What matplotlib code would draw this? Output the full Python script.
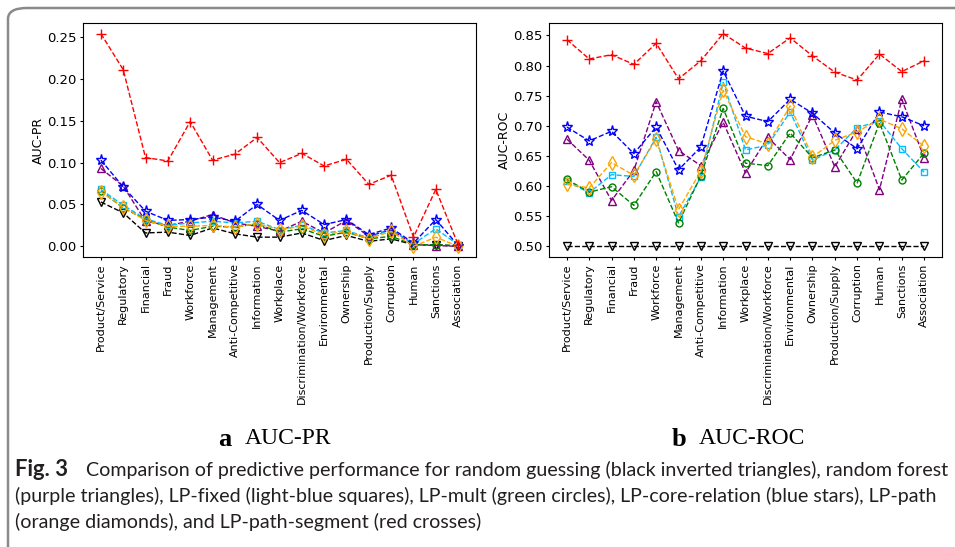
import matplotlib
matplotlib.use('Agg')
import matplotlib.pyplot as plt
from matplotlib.patches import FancyBboxPatch

categories = ['Product/Service', 'Regulatory', 'Financial', 'Fraud', 'Workforce', 'Management',
              'Anti-Competitive', 'Information', 'Workplace', 'Discrimination/Workforce',
              'Environmental', 'Ownership', 'Production/Supply', 'Corruption', 'Human',
              'Sanctions', 'Association']

# AUC-PR
pr_random_guess = [0.053, 0.040, 0.016, 0.017, 0.013, 0.022, 0.015, 0.011, 0.011, 0.016, 0.007, 0.013, 0.006, 0.009, 0.002, 0.002, 0.000]
pr_random_forest = [0.093, 0.072, 0.030, 0.025, 0.030, 0.038, 0.028, 0.024, 0.018, 0.030, 0.016, 0.031, 0.012, 0.020, 0.002, 0.001, 0.000]
pr_lp_fixed = [0.068, 0.049, 0.033, 0.025, 0.028, 0.030, 0.028, 0.030, 0.020, 0.025, 0.016, 0.019, 0.010, 0.020, 0.003, 0.021, 0.002]
pr_lp_mult = [0.066, 0.046, 0.032, 0.023, 0.019, 0.024, 0.023, 0.027, 0.017, 0.021, 0.012, 0.017, 0.009, 0.012, 0.002, 0.002, 0.001]
pr_lp_core = [0.103, 0.071, 0.042, 0.031, 0.032, 0.035, 0.030, 0.050, 0.031, 0.043, 0.026, 0.032, 0.014, 0.022, 0.004, 0.032, 0.001]
pr_lp_path = [0.065, 0.047, 0.031, 0.024, 0.024, 0.025, 0.023, 0.027, 0.020, 0.024, 0.014, 0.018, 0.009, 0.018, 0.000, 0.011, 0.000]
pr_lp_segment = [0.254, 0.211, 0.106, 0.102, 0.149, 0.103, 0.110, 0.130, 0.100, 0.111, 0.096, 0.104, 0.074, 0.085, 0.011, 0.068, 0.002]

# AUC-ROC
roc_random_guess = [0.5] * 17
roc_random_forest = [0.678, 0.643, 0.576, 0.626, 0.740, 0.659, 0.634, 0.706, 0.622, 0.681, 0.644, 0.718, 0.632, 0.694, 0.594, 0.744, 0.647]
roc_lp_fixed = [0.608, 0.589, 0.619, 0.616, 0.681, 0.549, 0.615, 0.772, 0.660, 0.668, 0.723, 0.643, 0.660, 0.697, 0.708, 0.662, 0.623]
roc_lp_mult = [0.611, 0.590, 0.599, 0.568, 0.624, 0.539, 0.617, 0.729, 0.638, 0.634, 0.688, 0.647, 0.660, 0.605, 0.705, 0.610, 0.655]
roc_lp_core = [0.698, 0.675, 0.691, 0.654, 0.698, 0.627, 0.665, 0.791, 0.716, 0.707, 0.744, 0.721, 0.688, 0.662, 0.723, 0.715, 0.700]
roc_lp_path = [0.603, 0.597, 0.639, 0.618, 0.678, 0.561, 0.625, 0.759, 0.682, 0.670, 0.733, 0.648, 0.676, 0.690, 0.711, 0.695, 0.666]
roc_lp_segment = [0.843, 0.811, 0.818, 0.802, 0.837, 0.778, 0.808, 0.853, 0.829, 0.820, 0.846, 0.816, 0.789, 0.776, 0.819, 0.790, 0.808]

styles = [('black', 'v', 5.5), ('purple', '^', 6), ('deepskyblue', 's', 5), ('green', 'o', 5),
          ('blue', '*', 8), ('orange', 'd', 7), ('red', '+', 7)]

fig = plt.figure(figsize=(9.55, 5.47), dpi=100)

# rounded frame around the whole figure block
frame = FancyBboxPatch((8 / 955, -0.05), 1.1, 1.05 - 8 / 547,
                       boxstyle='round,pad=0,rounding_size=0.02', transform=fig.transFigure,
                       facecolor='none', edgecolor='#8a8a8a', linewidth=1.8, clip_on=False)
fig.patches.append(frame)

ax1 = fig.add_axes([83 / 955, 1 - 257 / 547, 393 / 955, 234 / 547])
ax2 = fig.add_axes([549 / 955, 1 - 257 / 547, 393 / 955, 234 / 547])

x = list(range(len(categories)))

pr_series = [pr_random_guess, pr_random_forest, pr_lp_fixed, pr_lp_mult, pr_lp_core, pr_lp_path, pr_lp_segment]
roc_series = [roc_random_guess, roc_random_forest, roc_lp_fixed, roc_lp_mult, roc_lp_core, roc_lp_path, roc_lp_segment]

for ax, series, lab in [(ax1, pr_series, 'AUC-PR'), (ax2, roc_series, 'AUC-ROC')]:
    for vals, (c, m, ms) in zip(series, styles):
        ax.plot(x, vals, linestyle='--', color=c, marker=m, markersize=ms,
                markerfacecolor='none', markeredgecolor=c, linewidth=1, markeredgewidth=1)
    ax.set_xticks(x)
    ax.set_xticklabels(categories, rotation=90, fontsize=8)
    ax.tick_params(axis='both', length=2.5, pad=2)
    ax.tick_params(axis='y', labelsize=9.5)
    ax.set_ylabel(lab, fontsize=9, labelpad=2)

ax1.set_yticks([0.0, 0.05, 0.10, 0.15, 0.20, 0.25])
ax2.set_yticks([0.50, 0.55, 0.60, 0.65, 0.70, 0.75, 0.80, 0.85])

# panel labels
for xl, letter, name in [(218, 'a', 'AUC-PR'), (672, 'b', 'AUC-ROC')]:
    fig.text(xl / 955, 1 - 439 / 547, letter, fontsize=19, fontweight='bold',
             family='Liberation Serif', ha='left', va='center')
    fig.text((xl + 27) / 955, 1 - 439 / 547, name, fontsize=17, family='Liberation Serif',
             ha='left', va='center')

# caption
cap_font = 'Lato'
cap_color = '#231f20'
line1 = 'Comparison of predictive performance for random guessing (black inverted triangles), random forest'
renderer = fig.canvas.get_renderer()

# pick a size so that the first line spans the caption width
probe = fig.text(0, 0, line1, fontsize=10, family=cap_font)
w = probe.get_window_extent(renderer=renderer).width
probe.remove()
cap_size = 10 * (950 - 86) / w

fig.text(15 / 955, 1 - 470 / 547, 'Fig. 3', fontsize=cap_size * 1.12, fontweight='bold',
         family=cap_font, color=cap_color, va='center')
fig.text(86 / 955, 1 - 470 / 547, line1,
         fontsize=cap_size, family=cap_font, color=cap_color, va='center')
fig.text(15 / 955, 1 - 496 / 547,
         '(purple triangles), LP-fixed (light-blue squares), LP-mult (green circles), LP-core-relation (blue stars), LP-path',
         fontsize=cap_size, family=cap_font, color=cap_color, va='center')
fig.text(15 / 955, 1 - 522 / 547,
         '(orange diamonds), and LP-path-segment (red crosses)',
         fontsize=cap_size, family=cap_font, color=cap_color, va='center')

fig.savefig('out.png', dpi=100)
